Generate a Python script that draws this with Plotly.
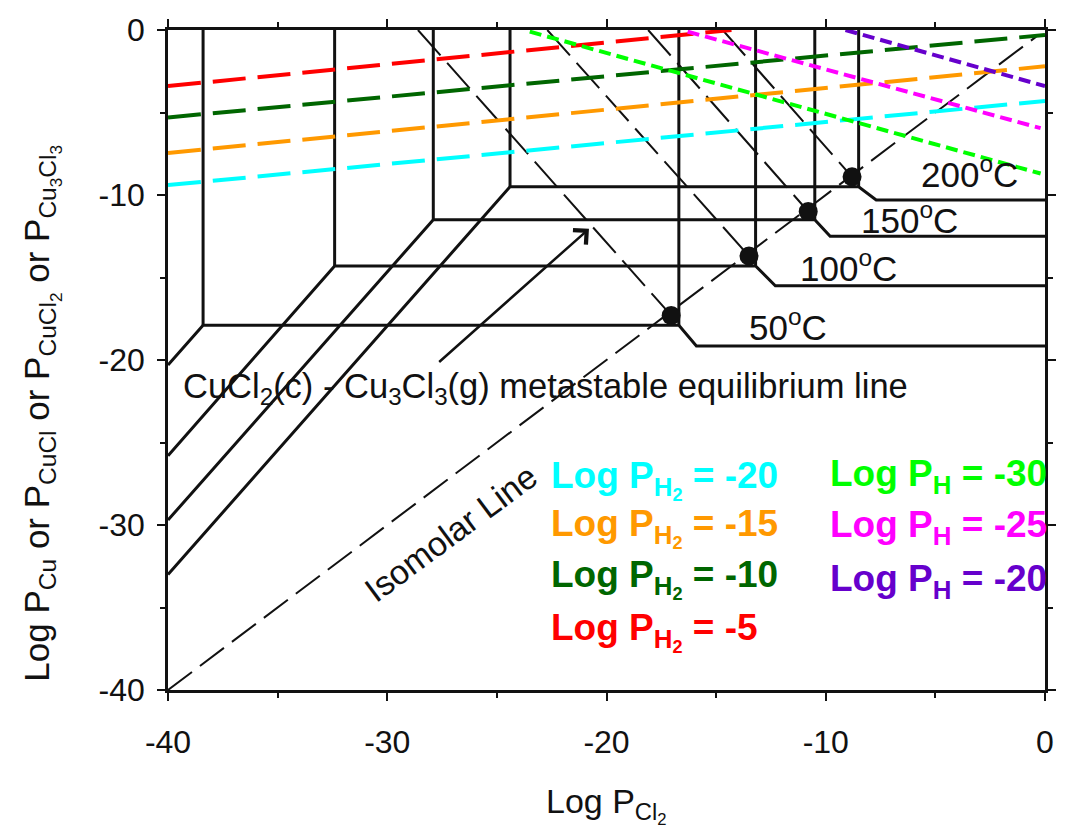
import plotly.graph_objects as go

# ---------------- data ----------------
# Phase boundary polylines, one per temperature
temps = ["50", "100", "150", "200"]
x_left = [-38.4, -32.4, -27.9, -24.4]          # left vertical boundaries
y_diag_end = [-20.3, -25.8, -29.7, -33.0]      # diagonal end at x = -40
y_upper = [-17.9, -14.3, -11.5, -9.5]          # upper plateau
x_right = [-16.7, -13.2, -10.5, -8.5]          # right vertical boundaries
x_knee = [-15.9, -12.3, -9.8, -7.7]            # knee end
y_lower = [-19.15, -15.5, -12.5, -10.3]        # lower plateau

# triple points (black dots) on isomolar line
dot_x = [-17.05, -13.5, -10.8, -8.8]
dot_y = [-17.3, -13.7, -11.0, -8.9]
# metastable equilibrium lines: from dot up to top axis
meta_top_x = [-28.6, -22.7, -18.1, -14.7]
meta_top_y = [0.0, 0.0, 0.0, 0.0]

# isomolar line
iso_x = [-40.0, -0.4]
iso_y = [-40.0, -0.4]

# constant Log P_H2 lines
h2_vals = ["-5", "-10", "-15", "-20"]
h2_colors = ["#FF0000", "#006600", "#FF9900", "#00FFFF"]
h2_x0 = [-40.0, -40.0, -40.0, -40.0]
h2_x1 = [-14.3, 0.0, 0.0, 0.0]
h2_y0 = [-3.4, -5.3, -7.45, -9.4]
h2_y1 = [0.0, -0.3, -2.2, -4.3]

# constant Log P_H lines
h_vals = ["-30", "-25", "-20"]
h_colors = ["#00FF00", "#FF00FF", "#6600CC"]
h_x0 = [-23.5, -16.3, -9.1]
h_x1 = [-0.2, -0.2, 0.0]
h_y0 = [-0.1, -0.1, 0.0]
h_y1 = [-8.7, -5.95, -3.4]

tick_vals = [-40, -30, -20, -10, 0]
tick_text = ["-40", "-30", "-20", "-10", "0"]

FONT = "Liberation Sans, Arial, sans-serif"

fig = go.Figure()

# phase boundaries
for i in range(len(temps)):
    xs = [-40.0, x_left[i], x_right[i], x_knee[i], 0.0, None,
          x_left[i], x_left[i], None, x_right[i], x_right[i]]
    ys = [y_diag_end[i], y_upper[i], y_upper[i], y_lower[i], y_lower[i], None,
          0.0, y_upper[i], None, 0.0, y_upper[i]]
    fig.add_trace(go.Scatter(x=xs, y=ys, mode="lines",
                             line=dict(color="#111111", width=3),
                             hoverinfo="skip", showlegend=False))

# metastable lines
for i in range(len(dot_x)):
    fig.add_trace(go.Scatter(x=[meta_top_x[i], dot_x[i]], y=[meta_top_y[i], dot_y[i]],
                             mode="lines",
                             line=dict(color="#111111", width=2, dash="34px,10px"),
                             hoverinfo="skip", showlegend=False))

# isomolar line
fig.add_trace(go.Scatter(x=iso_x, y=iso_y, mode="lines",
                         line=dict(color="#111111", width=2, dash="30px,10px"),
                         hoverinfo="skip", showlegend=False))

# dots
fig.add_trace(go.Scatter(x=dot_x, y=dot_y, mode="markers",
                         marker=dict(color="#111111", size=19, symbol="circle"),
                         hoverinfo="skip", showlegend=False))

# H2 lines
for i in range(len(h2_vals)):
    fig.add_trace(go.Scatter(x=[h2_x0[i], h2_x1[i]], y=[h2_y0[i], h2_y1[i]],
                             mode="lines",
                             line=dict(color=h2_colors[i], width=4, dash="33px,12px"),
                             hoverinfo="skip", showlegend=False))
# H lines
for i in range(len(h_vals)):
    fig.add_trace(go.Scatter(x=[h_x0[i], h_x1[i]], y=[h_y0[i], h_y1[i]],
                             mode="lines",
                             line=dict(color=h_colors[i], width=4, dash="12px,6px"),
                             hoverinfo="skip", showlegend=False))

annotations = []
# temperature labels
temp_pos_x = [-11.7, -8.95, -6.2, -3.45]
temp_pos_y = [-17.9, -14.3, -11.4, -8.6]
for i in range(len(temps)):
    annotations.append(dict(x=temp_pos_x[i], y=temp_pos_y[i], xref="x", yref="y",
                            text=temps[i] + "<sup>o</sup>C", showarrow=False,
                            xanchor="center", yanchor="middle",
                            font=dict(family=FONT, size=35, color="#111111")))

annotations.append(dict(x=-39.4, y=-21.7, xref="x", yref="y",
                        text="CuCl<sub>2</sub>(c) - Cu<sub>3</sub>Cl<sub>3</sub>(g) metastable equilibrium line",
                        showarrow=False, xanchor="left", yanchor="middle",
                        font=dict(family=FONT, size=34.5, color="#111111")))

annotations.append(dict(x=-27.1, y=-30.5, xref="x", yref="y", text="Isomolar Line",
                        showarrow=False, textangle=-36.6, xanchor="center", yanchor="middle",
                        font=dict(family=FONT, size=34, color="#111111")))

# arrow
annotations.append(dict(x=-20.8, y=-12.05, ax=-27.7, ay=-20.2, xref="x", yref="y",
                        axref="x", ayref="y", text="", showarrow=True,
                        arrowhead=4, arrowsize=1.5, arrowwidth=2.5, arrowcolor="#111111"))

# legend texts
h2_lab_y = [-36.5, -33.3, -30.2, -27.3]
for i in range(len(h2_vals)):
    annotations.append(dict(x=-22.6, y=h2_lab_y[i], xref="x", yref="y",
                            text="<b>Log P<sub>H<sub>2</sub></sub> = " + h2_vals[i] + "</b>",
                            showarrow=False, xanchor="left", yanchor="middle",
                            font=dict(family=FONT, size=37, color=h2_colors[i])))
h_lab_y = [-27.0, -30.15, -33.4]
for i in range(len(h_vals)):
    annotations.append(dict(x=-9.9, y=h_lab_y[i], xref="x", yref="y",
                            text="<b>Log P<sub>H</sub> = " + h_vals[i] + "</b>",
                            showarrow=False, xanchor="left", yanchor="middle",
                            font=dict(family=FONT, size=37, color=h_colors[i])))

# axis titles
annotations.append(dict(x=-0.145, y=0.42, xref="paper", yref="paper",
                        text="Log P<sub>Cu</sub> or P<sub>CuCl</sub> or P<sub>CuCl<sub>2</sub></sub> or P<sub>Cu<sub>3</sub>Cl<sub>3</sub></sub>",
                        showarrow=False, textangle=-90, xanchor="center", yanchor="middle",
                        font=dict(family=FONT, size=35, color="#111111")))
annotations.append(dict(x=0.5, y=-0.175, xref="paper", yref="paper",
                        text="Log P<sub>Cl<sub>2</sub></sub>",
                        showarrow=False, xanchor="center", yanchor="middle",
                        font=dict(family=FONT, size=34, color="#111111")))

axis_common = dict(range=[-40, 0], tickvals=tick_vals, ticktext=tick_text,
                   ticks="outside", ticklen=8, tickwidth=2, tickcolor="#111111",
                   showline=True, linecolor="#111111", linewidth=2.5, mirror="allticks",
                   showgrid=False, zeroline=False,
                   minor=dict(dtick=5, tick0=-40, ticks="outside", ticklen=5, tickwidth=1.5,
                              tickcolor="#111111", showgrid=False),
                   tickfont=dict(family=FONT, size=32, color="#111111"))

fig.update_layout(
    width=1068, height=832,
    margin=dict(l=168, r=16, t=26, b=142),
    paper_bgcolor="white", plot_bgcolor="white",
    xaxis=dict(**axis_common, ticklabelstandoff=14),
    yaxis=dict(**axis_common, ticklabelstandoff=6),
    annotations=annotations,
    showlegend=False,
)

fig.write_html("out.html")
